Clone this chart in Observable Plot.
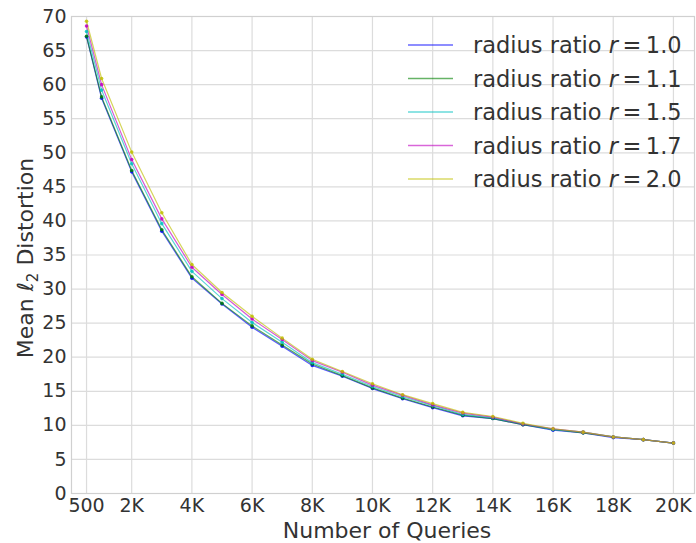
<!DOCTYPE html>
<html>
<head>
<meta charset="utf-8">
<script src="https://cdn.jsdelivr.net/npm/d3@7"></script>
<script src="https://cdn.jsdelivr.net/npm/@observablehq/plot@0.6"></script>
<style>
  html, body { margin: 0; padding: 0; background: #fff; }
  #chart { width: 696px; height: 543px; }
</style>
</head>
<body>
<div id="chart"></div>
<script>
const queries = [500, 1000, 2000, 3000, 4000, 5000, 6000, 7000, 8000, 9000, 10000,
  11000, 12000, 13000, 14000, 15000, 16000, 17000, 18000, 19000, 20000];
const ratios = ["1.0", "1.1", "1.5", "1.7", "2.0"];
const r10 = [67.0, 58.0, 47.2, 38.5, 31.6, 27.8, 24.4, 21.6, 18.8, 17.2, 15.4, 13.9, 12.6, 11.4, 11.0, 10.1, 9.3, 8.9, 8.2, 7.9, 7.4];
const r11 = [67.1, 58.2, 47.4, 38.7, 31.8, 27.9, 24.6, 21.8, 19.0, 17.3, 15.5, 14.0, 12.7, 11.5, 11.0, 10.1, 9.4, 8.9, 8.3, 7.9, 7.4];
const r15 = [67.8, 59.2, 48.4, 39.6, 32.6, 28.6, 25.1, 22.2, 19.2, 17.5, 15.7, 14.2, 12.9, 11.6, 11.1, 10.2, 9.4, 9.0, 8.3, 7.9, 7.4];
const r17 = [68.6, 60.0, 49.0, 40.3, 33.2, 29.2, 25.6, 22.6, 19.5, 17.8, 15.9, 14.4, 13.0, 11.8, 11.2, 10.2, 9.5, 9.0, 8.3, 7.9, 7.4];
const r20 = [69.3, 60.9, 50.1, 41.2, 33.6, 29.5, 26.0, 22.8, 19.7, 17.9, 16.1, 14.5, 13.2, 11.9, 11.3, 10.3, 9.5, 9.0, 8.3, 7.9, 7.4];
const seriesValues = [r10, r11, r15, r17, r20];
const colors = ["#0000ff", "#008000", "#00bfbf", "#bf00bf", "#bfbf00"];
const xTicks = [500, 2000, 4000, 6000, 8000, 10000, 12000, 14000, 16000, 18000, 20000];
const yTicks = [0, 5, 10, 15, 20, 25, 30, 35, 40, 45, 50, 55, 60, 65, 70];

const data = [];
ratios.forEach((r, i) => {
  queries.forEach((q, j) => data.push({ratio: r, q, v: seriesValues[i][j]}));
});

const fmtX = d => d === 500 ? "500" : (d / 1000) + "K";
const font = "DejaVu Sans, sans-serif";

const plot = Plot.plot({
  width: 696,
  height: 543,
  marginLeft: 71,
  marginRight: 2,
  marginTop: 16,
  marginBottom: 50,
  style: {fontFamily: font, fontSize: "19px", color: "#333", background: "#fff"},
  x: {domain: [0, 20700], ticks: xTicks, tickFormat: fmtX, label: null},
  y: {domain: [0, 70], ticks: yTicks, label: null},
  color: {domain: ratios, range: colors},
  marks: [
    Plot.gridX(xTicks, {stroke: "#dcdcdc", strokeOpacity: 1, strokeWidth: 1.2}),
    Plot.gridY(yTicks, {stroke: "#dcdcdc", strokeOpacity: 1, strokeWidth: 1.2}),
    Plot.frame({stroke: "#d0d0d0", strokeWidth: 1.2}),
    Plot.axisX(xTicks, {tickFormat: fmtX, tickSize: 0, tickPadding: 5, fontSize: 19, fill: "#333", label: null}),
    Plot.axisY(yTicks, {tickSize: 0, tickPadding: 5, fontSize: 19, fill: "#333", label: null}),
    Plot.line(data, {x: "q", y: "v", z: "ratio", stroke: "ratio", strokeWidth: 1.2, strokeOpacity: 0.65}),
    Plot.dot(data, {x: "q", y: "v", fill: "ratio", r: 1.8, fillOpacity: 0.85})
  ]
});

document.getElementById("chart").appendChild(plot);
const svg = d3.select(plot);

// axis titles
svg.append("text")
  .attr("x", 387).attr("y", 538)
  .attr("text-anchor", "middle")
  .attr("font-family", font).attr("font-size", 22).attr("fill", "#333")
  .text("Number of Queries");

const yl = svg.append("text")
  .attr("transform", "translate(33,258) rotate(-90)")
  .attr("text-anchor", "middle")
  .attr("font-family", font).attr("font-size", 22).attr("fill", "#333");
yl.append("tspan").text("Mean ");
yl.append("tspan").attr("font-style", "italic").text("ℓ");
yl.append("tspan").attr("font-size", 15).attr("dy", 5).text("2");
yl.append("tspan").attr("dy", -5).text(" Distortion");

// legend
const lg = svg.append("g").attr("font-family", font).attr("font-size", 22.5)
  .attr("fill", "#333").attr("text-anchor", "start");
ratios.forEach((r, i) => {
  const yy = 45 + i * 33.5;
  lg.append("line").attr("x1", 408).attr("x2", 453).attr("y1", yy).attr("y2", yy)
    .attr("stroke", colors[i]).attr("stroke-opacity", 0.6).attr("stroke-width", 1.3);
  const t = lg.append("text").attr("x", 473).attr("y", yy + 8);
  t.append("tspan").text("radius ratio ");
  t.append("tspan").attr("font-style", "italic").text("r");
  t.append("tspan").text("\u2009=\u2009" + r);
});
</script>
</body>
</html>
